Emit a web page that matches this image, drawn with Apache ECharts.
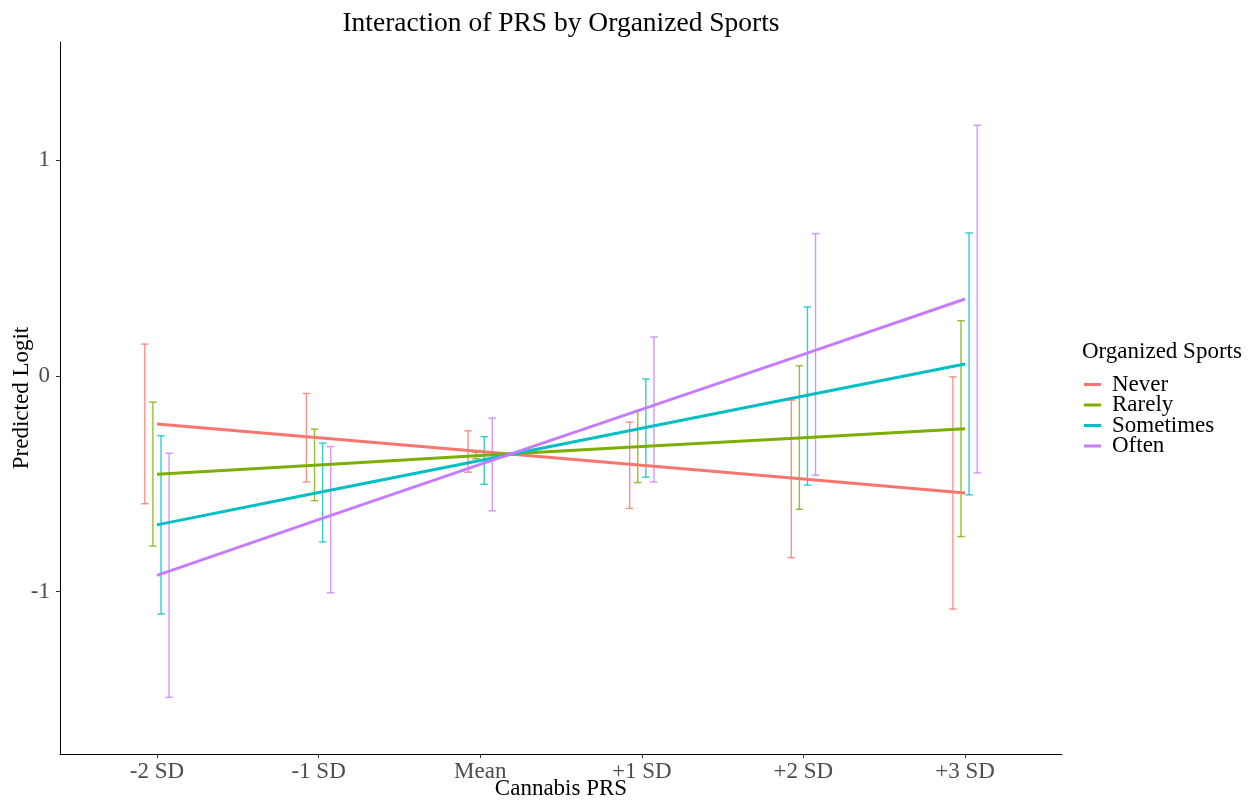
<!DOCTYPE html>
<html>
<head>
<meta charset="utf-8">
<title>Interaction of PRS by Organized Sports</title>
<script src="https://cdn.jsdelivr.net/npm/echarts@6/dist/echarts.min.js"></script>
<style>
  html, body { margin: 0; padding: 0; background: #ffffff; }
  #chart { width: 1248px; height: 803px; }
</style>
</head>
<body>
<div id="chart"></div>
<script>
// Predictor levels on the x axis
const prsLevels = ['-2 SD', '-1 SD', 'Mean', '+1 SD', '+2 SD', '+3 SD'];
const groups = ['Never', 'Rarely', 'Sometimes', 'Often'];
const yTicks = [-1, 0, 1];

// Predicted logits per group
const neverFit     = [-0.223, -0.287, -0.351, -0.415, -0.478, -0.543];
const rarelyFit    = [-0.456, -0.413, -0.370, -0.328, -0.287, -0.245];
const sometimesFit = [-0.691, -0.541, -0.393, -0.243, -0.094, 0.055];
const oftenFit     = [-0.925, -0.667, -0.411, -0.156, 0.099, 0.356];

// Confidence bounds per group
const neverLow      = [-0.593, -0.492, -0.447, -0.615, -0.843, -1.081];
const neverHigh     = [0.147, -0.082, -0.255, -0.215, -0.113, -0.005];
const rarelyLow     = [-0.789, -0.579, -0.385, -0.495, -0.619, -0.745];
const rarelyHigh    = [-0.122, -0.247, -0.355, -0.161, 0.046, 0.255];
const sometimesLow  = [-1.104, -0.770, -0.503, -0.470, -0.507, -0.552];
const sometimesHigh = [-0.278, -0.312, -0.282, -0.015, 0.319, 0.662];
const oftenLow      = [-1.490, -1.006, -0.626, -0.492, -0.461, -0.450];
const oftenHigh     = [-0.359, -0.328, -0.196, 0.180, 0.659, 1.161];

const fits = [neverFit, rarelyFit, sometimesFit, oftenFit];
const lows = [neverLow, rarelyLow, sometimesLow, oftenLow];
const highs = [neverHigh, rarelyHigh, sometimesHigh, oftenHigh];
const colors = ['#F8766D', '#7CAE00', '#00BFC4', '#C77CFF'];

const serif = '"Liberation Serif", "DejaVu Serif", serif';
const DODGE = 0.2;       // total dodge width, in category units
const CAP_HALF = 3.8;    // half width of error-bar caps, px

const chart = echarts.init(document.getElementById('chart'), null, { renderer: 'canvas' });

const lineSeries = groups.map((g, gi) => ({
  name: g,
  type: 'line',
  z: 3,
  symbol: 'none',
  lineStyle: { color: colors[gi], width: 3 },
  itemStyle: { color: colors[gi] },
  data: fits[gi].map((v, i) => [i + 1, v])
}));

const errorSeries = groups.map((g, gi) => {
  const offset = (gi - (groups.length - 1) / 2) * DODGE / groups.length;
  return {
    name: g,
    type: 'custom',
    z: 2,
    itemStyle: { color: colors[gi] },
    encode: { x: 0, y: [1, 2] },
    data: lows[gi].map((lo, i) => [i + 1 + offset, lo, highs[gi][i]]),
    renderItem: function (params, api) {
      const x = api.value(0);
      const lo = api.coord([x, api.value(1)]);
      const hi = api.coord([x, api.value(2)]);
      const style = { stroke: colors[gi], lineWidth: 1.4, opacity: 0.8 };
      return {
        type: 'group',
        children: [
          { type: 'line', shape: { x1: lo[0], y1: lo[1], x2: hi[0], y2: hi[1] }, style: style },
          { type: 'line', shape: { x1: hi[0] - CAP_HALF, y1: hi[1], x2: hi[0] + CAP_HALF, y2: hi[1] }, style: style },
          { type: 'line', shape: { x1: lo[0] - CAP_HALF, y1: lo[1], x2: lo[0] + CAP_HALF, y2: lo[1] }, style: style }
        ]
      };
    }
  };
});

const option = {
  backgroundColor: '#ffffff',
  animation: false,
  color: colors,
  grid: { left: 60, right: 186, top: 42, bottom: 49, containLabel: false, outerBoundsMode: 'none' },
  graphic: [
    {
      type: 'text', x: 561, y: 24,
      style: {
        text: 'Interaction of PRS by Organized Sports',
        font: '27.5px ' + serif, fill: '#000000',
        textAlign: 'center', textVerticalAlign: 'middle'
      }
    },
    {
      type: 'text', x: 1082, y: 352,
      style: {
        text: 'Organized Sports',
        font: '23px ' + serif, fill: '#000000',
        textAlign: 'left', textVerticalAlign: 'middle'
      }
    }
  ],
  legend: {
    data: groups.map(g => ({ name: g, icon: 'rect' })),
    orient: 'vertical',
    left: 1084,
    top: 373,
    padding: 0,
    itemWidth: 17,
    itemHeight: 3,
    itemGap: -2.5,
    selectedMode: false,
    textStyle: {
      fontFamily: serif, fontSize: 23, color: '#000000',
      lineHeight: 20.5, padding: [0, 0, 0, 6]
    }
  },
  xAxis: {
    type: 'value',
    min: 0.4,
    max: 6.6,
    name: 'Cannabis PRS',
    nameLocation: 'middle',
    nameGap: 23,
    nameMoveOverlap: false,
    nameTextStyle: { fontFamily: serif, fontSize: 23, color: '#000000' },
    axisLine: { show: true, onZero: false, lineStyle: { color: '#000000', width: 1 } },
    axisTick: { show: true, length: 4, lineStyle: { color: '#333333' }, customValues: [1, 2, 3, 4, 5, 6] },
    axisLabel: {
      customValues: [1, 2, 3, 4, 5, 6],
      formatter: v => prsLevels[Math.round(v) - 1],
      fontFamily: serif, fontSize: 23, color: '#4D4D4D', margin: 6
    },
    splitLine: { show: false }
  },
  yAxis: {
    type: 'value',
    min: -1.753,
    max: 1.547,
    name: 'Predicted Logit',
    nameLocation: 'middle',
    nameGap: 27,
    nameMoveOverlap: false,
    nameRotate: 90,
    nameTextStyle: { fontFamily: serif, fontSize: 23, color: '#000000' },
    axisLine: { show: true, onZero: false, lineStyle: { color: '#000000', width: 1 } },
    axisTick: { show: true, length: 4, lineStyle: { color: '#333333' }, customValues: yTicks },
    axisLabel: {
      customValues: yTicks,
      formatter: v => String(Math.round(v)),
      fontFamily: serif, fontSize: 23, color: '#4D4D4D', margin: 10
    },
    splitLine: { show: false }
  },
  series: lineSeries.concat(errorSeries)
};

chart.setOption(option);
</script>
</body>
</html>
